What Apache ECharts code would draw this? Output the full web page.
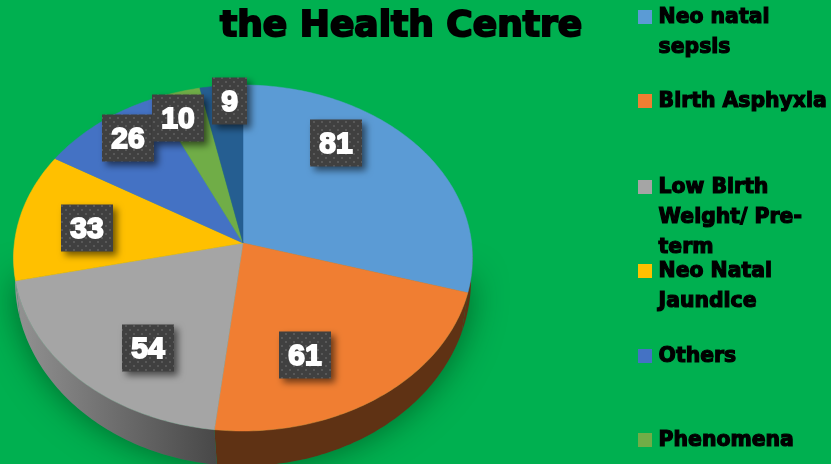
<!DOCTYPE html>
<html>
<head>
<meta charset="utf-8">
<style>
  html, body { margin: 0; padding: 0; background: #00b050; }
  #main { width: 831px; height: 464px; }
</style>
<script src="https://cdn.jsdelivr.net/npm/echarts@6/dist/echarts.min.js"></script>
</head>
<body>
<div id="main"></div>
<script>
// data
const categories = ['Neo natal\nsepsis', 'Birth Asphyxia', 'Low Birth\nWeight/ Pre-\nterm', 'Neo Natal\nJaundice', 'Others', 'Phenomena', ''];
const values = [81, 61, 54, 33, 26, 10, 9];
const colors = ['#5b9bd5', '#f07e32', '#a5a5a5', '#ffc000', '#4472c4', '#70ad47', '#255e91'];
const wallColors = ['#5f3214', '#5f3214', '#6a6a6a', '#929292', '#929292', '#929292', '#929292'];

// layout
const labelCenters = [[336, 143], [305, 355], [148, 348], [87, 228], [128, 138], [178, 118], [229.5, 101]];
const legendY = [17, 101, 187, 271, 356, 440];
const apex = [243, 243];
const topShape = { rx: 228.6, ry: 171.7, k: 0.0867 };
const wallShape = { cy: 280, rx: 228, ry: 186 };

const total = values.reduce((a, b) => a + b, 0);
const startDeg = [];
values.reduce((acc, v, i) => { startDeg[i] = acc / total * 360; return acc + v; }, 0);

// pie top is a tilted circle, so the far side is squeezed
function topPoint(deg) {
    const t = deg * Math.PI / 180;
    const u = Math.sin(t), v = Math.cos(t);
    const d = 1 + topShape.k * v;
    return [apex[0] + topShape.rx * u / d, apex[1] - topShape.ry * v / d];
}
function wallPoint(deg) {
    const t = deg * Math.PI / 180;
    return [apex[0] + wallShape.rx * Math.sin(t), wallShape.cy - wallShape.ry * Math.cos(t)];
}
function arc(fn, from, to) {
    const pts = [];
    const n = Math.max(2, Math.ceil(Math.abs(to - from)));
    for (let i = 0; i <= n; i++) pts.push(fn(from + (to - from) * i / n));
    return pts;
}

// dotted fill of the label boxes
const dots = document.createElement('canvas');
dots.width = 8;
dots.height = 8;
const dotCtx = dots.getContext('2d');
dotCtx.fillStyle = '#404040';
dotCtx.fillRect(0, 0, 8, 8);
dotCtx.fillStyle = '#585858';
dotCtx.fillRect(1, 1, 2, 2);
dotCtx.fillRect(5, 5, 2, 2);

const sliceData = categories.map((c, i) => ({ name: c || 'other', value: values[i] }));

function renderShadow(params) {
    if (params.dataIndex !== 0) return;
    const pts = arc(wallPoint, 90, 270);
    return {
        type: 'polygon',
        shape: { points: pts },
        style: { fill: '#00964a', shadowBlur: 34, shadowColor: 'rgba(0,40,10,0.55)' }
    };
}

function renderWall(params, api) {
    const i = params.dataIndex;
    const from = Math.max(startDeg[i], 90);
    const to = Math.min(startDeg[i] + api.value(0) / total * 360, 270);
    if (to <= from) return;
    const pts = arc(topPoint, from, to).concat(arc(wallPoint, to, from));
    let fill = wallColors[i];
    if (i === 2) {
        fill = {
            type: 'linear', x: 0, y: 0, x2: 1, y2: 0,
            colorStops: [{ offset: 0, color: '#929292' }, { offset: 1, color: '#484848' }]
        };
    }
    return { type: 'polygon', shape: { points: pts }, style: { fill: fill } };
}

function renderSlice(params, api) {
    const i = params.dataIndex;
    const from = startDeg[i];
    const to = from + api.value(0) / total * 360;
    const pts = [apex].concat(arc(topPoint, from, to));
    return {
        type: 'polygon',
        shape: { points: pts },
        style: { fill: colors[i], stroke: colors[i], lineWidth: 0.5 }
    };
}

function renderLabel(params, api) {
    const i = params.dataIndex;
    const text = String(api.value(0));
    const w = 18 + 17 * text.length;
    const h = 47;
    const c = labelCenters[i];
    return {
        type: 'group',
        children: [{
            type: 'rect',
            shape: { x: c[0] - w / 2, y: c[1] - h / 2, width: w, height: h },
            style: {
                fill: { image: dots, repeat: 'repeat' },
                shadowBlur: 7, shadowOffsetX: 4, shadowOffsetY: 4, shadowColor: 'rgba(0,0,0,0.55)'
            }
        }, {
            type: 'text',
            x: c[0],
            y: c[1] + 2,
            style: {
                text: text,
                fill: '#fff',
                stroke: '#fff',
                lineWidth: 1.9,
                font: 'bold 30px "Liberation Sans"',
                align: 'center',
                verticalAlign: 'middle'
            }
        }]
    };
}

const legendFont = 'bold 20.4px "DejaVu Sans"';
const legendItems = [];
categories.forEach((c, i) => {
    if (!c) return;
    legendItems.push({
        type: 'rect',
        left: 638,
        top: legendY[i] - 7,
        shape: { width: 14, height: 14 },
        style: { fill: colors[i] }
    });
    c.split('\n').forEach((line, j) => {
        legendItems.push({
            type: 'text',
            left: 658,
            top: legendY[i] + j * 30 - 9.5,
            style: { text: line, font: legendFont, fill: '#000', stroke: '#000', lineWidth: 1.2 }
        });
    });
});

function customSeries(renderItem, z) {
    return { type: 'custom', coordinateSystem: 'none', data: sliceData, renderItem: renderItem, silent: true, z: z, animation: false };
}

const myChart = echarts.init(document.getElementById('main'), null, { renderer: 'canvas' });
myChart.setOption({
    backgroundColor: '#00b050',
    animation: false,
    title: {
        text: 'the Health Centre',
        left: 220,
        top: 8.5,
        padding: 0,
        textStyle: {
            fontFamily: '"DejaVu Sans"',
            fontWeight: 'bold',
            fontSize: 36,
            color: '#000',
            textBorderColor: '#000',
            textBorderWidth: 2
        }
    },
    graphic: legendItems,
    series: [
        customSeries(renderShadow, 1),
        customSeries(renderWall, 2),
        customSeries(renderSlice, 3),
        customSeries(renderLabel, 4)
    ]
});
</script>
</body>
</html>
